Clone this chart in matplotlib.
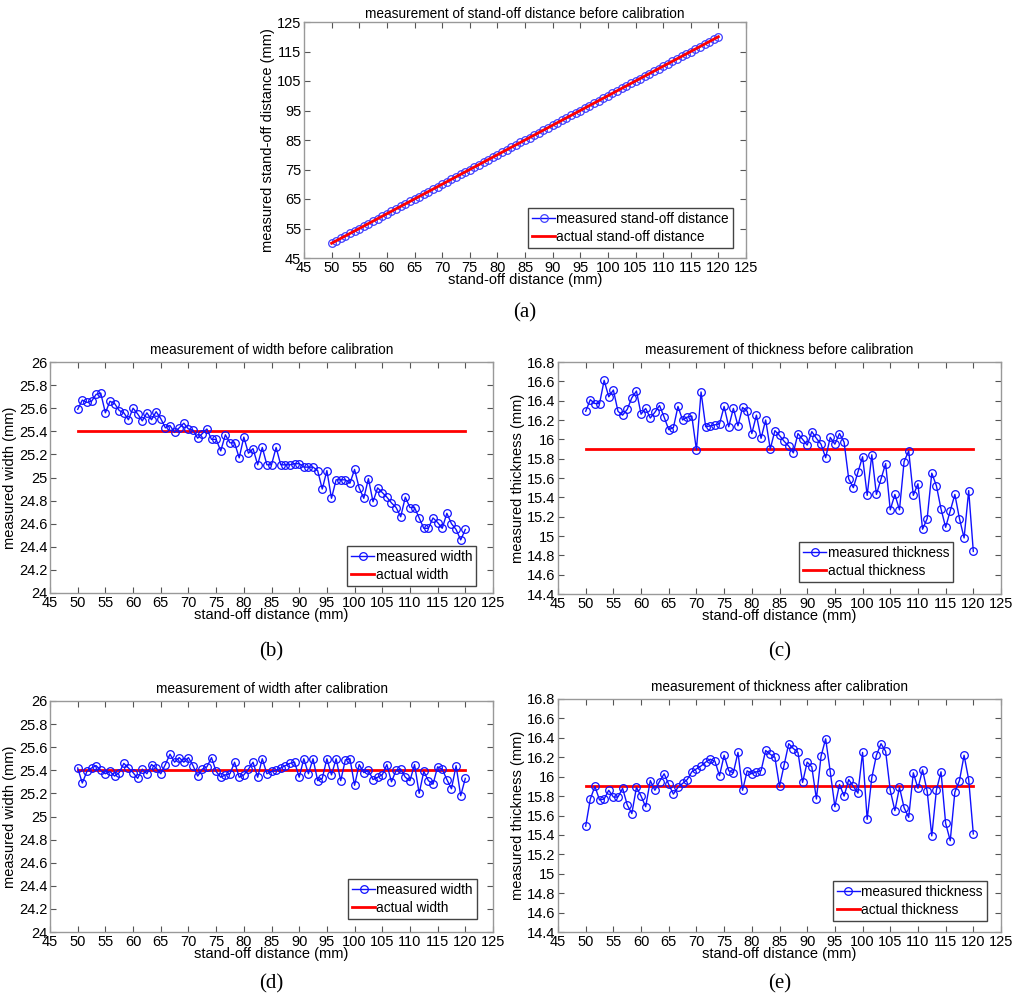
import numpy as np
import matplotlib
matplotlib.use('Agg')
import matplotlib.pyplot as plt

plt.rcParams['font.family'] = ['Liberation Sans', 'DejaVu Sans']

width_before = [25.59, 25.67, 25.65, 25.66, 25.72, 25.73, 25.56, 25.66, 25.64, 25.58,
                25.56, 25.50, 25.60, 25.55, 25.49, 25.56, 25.50, 25.57, 25.51, 25.43,
                25.45, 25.39, 25.43, 25.47, 25.42, 25.41, 25.34, 25.38, 25.42, 25.33,
                25.33, 25.23, 25.37, 25.30, 25.30, 25.17, 25.35, 25.21, 25.25, 25.11,
                25.26, 25.11, 25.11, 25.26, 25.11, 25.11, 25.11, 25.12, 25.12, 25.09,
                25.09, 25.09, 25.06, 24.90, 25.06, 24.82, 24.98, 24.98, 24.98, 24.95,
                25.07, 24.91, 24.82, 24.99, 24.79, 24.91, 24.87, 24.83, 24.78, 24.74,
                24.66, 24.83, 24.74, 24.74, 24.65, 24.56, 24.56, 24.65, 24.61, 24.56,
                24.69, 24.60, 24.55, 24.46, 24.55]

thick_before = [16.29, 16.41, 16.37, 16.37, 16.61, 16.44, 16.51, 16.29, 16.25, 16.31,
                16.43, 16.50, 16.26, 16.32, 16.22, 16.28, 16.35, 16.23, 16.10, 16.12,
                16.34, 16.20, 16.23, 16.24, 15.89, 16.49, 16.13, 16.14, 16.15, 16.16,
                16.34, 16.13, 16.32, 16.14, 16.33, 16.29, 16.06, 16.25, 16.01, 16.20,
                15.90, 16.09, 16.04, 15.98, 15.93, 15.86, 16.06, 16.00, 15.94, 16.08,
                16.01, 15.95, 15.81, 16.02, 15.95, 16.06, 15.97, 15.59, 15.50, 15.66,
                15.82, 15.42, 15.84, 15.43, 15.59, 15.75, 15.27, 15.43, 15.27, 15.77,
                15.88, 15.42, 15.54, 15.07, 15.18, 15.65, 15.52, 15.28, 15.09, 15.26,
                15.43, 15.18, 14.98, 15.47, 14.84]

width_after = [25.42, 25.29, 25.39, 25.42, 25.44, 25.40, 25.37, 25.39, 25.35, 25.38,
               25.46, 25.42, 25.38, 25.33, 25.41, 25.37, 25.45, 25.42, 25.37, 25.45,
               25.54, 25.47, 25.51, 25.47, 25.51, 25.44, 25.35, 25.41, 25.43, 25.51,
               25.39, 25.34, 25.36, 25.37, 25.47, 25.34, 25.36, 25.41, 25.47, 25.34,
               25.50, 25.37, 25.39, 25.40, 25.42, 25.44, 25.46, 25.47, 25.34, 25.50,
               25.37, 25.50, 25.31, 25.33, 25.50, 25.36, 25.50, 25.31, 25.49, 25.50,
               25.27, 25.45, 25.38, 25.40, 25.32, 25.34, 25.36, 25.45, 25.30, 25.40,
               25.41, 25.34, 25.31, 25.45, 25.20, 25.39, 25.31, 25.28, 25.43, 25.41,
               25.32, 25.24, 25.44, 25.18, 25.33]

thick_after = [15.49, 15.77, 15.90, 15.76, 15.77, 15.86, 15.79, 15.79, 15.88, 15.71,
               15.62, 15.89, 15.80, 15.69, 15.96, 15.86, 15.95, 16.03, 15.92, 15.82,
               15.89, 15.93, 15.97, 16.05, 16.08, 16.11, 16.15, 16.18, 16.16, 16.01,
               16.22, 16.06, 16.04, 16.25, 15.86, 16.06, 16.03, 16.05, 16.06, 16.27,
               16.23, 16.20, 15.90, 16.12, 16.34, 16.29, 16.25, 15.94, 16.15, 16.10,
               15.77, 16.21, 16.39, 16.05, 15.69, 15.92, 15.80, 15.97, 15.90, 15.83,
               16.25, 15.56, 15.99, 16.22, 16.34, 16.26, 15.86, 15.65, 15.89, 15.68,
               15.58, 16.04, 15.88, 16.07, 15.85, 15.39, 15.86, 16.05, 15.52, 15.34,
               15.84, 15.96, 16.22, 15.97, 15.41]

standoff = np.linspace(50, 120, len(width_before))
actual_width = 25.4
actual_thick = 15.9

W, H = 1014, 1000
fig = plt.figure(figsize=(W / 100, H / 100), dpi=100)


def make_ax(l, t, r, b):
    return fig.add_axes([l / W, 1 - b / H, (r - l) / W, (b - t) / H])


def style(ax, title, ylabel, ylim, yticks, lbl, lbl_y, leg_xy):
    ax.set_xlim(45, 125)
    ax.set_xticks(np.arange(45, 126, 5))
    ax.set_ylim(*ylim)
    ax.set_yticks(yticks)
    ax.set_yticklabels([('%g' % v) for v in yticks])
    ax.tick_params(direction='in', top=True, right=True, labelsize=10.5,
                   length=4, width=0.8, color='#555555', pad=2)
    for s in ax.spines.values():
        s.set_color('#999999')
        s.set_linewidth(1)
    ax.set_title(title, fontsize=9.8, pad=6)
    ax.set_ylabel(ylabel, fontsize=10.5, labelpad=1)
    ax.set_xlabel('stand-off distance (mm)', fontsize=10.5, labelpad=-1)
    # x centre of the axes in figure coords for the panel letter
    pos = ax.get_position()
    fig.text((pos.x0 + pos.x1) / 2, 1 - lbl_y / H, lbl, ha='center', va='center',
             fontsize=15, family='Liberation Serif')
    leg = ax.legend(loc='lower right', bbox_to_anchor=leg_xy, fontsize=9.8,
                    fancybox=False, framealpha=1, edgecolor='#444444',
                    handlelength=1.7, handletextpad=0.1, borderpad=0.3,
                    labelspacing=0.3, borderaxespad=0)
    leg.get_frame().set_linewidth(1)
    leg.set_zorder(1)


def draw(ax, meas, actual, name):
    ax.plot(standoff, meas, color='#1010ff', lw=1, marker='o', ms=5.5,
            mfc='none', mec='#1010ff', mew=0.9, label='measured ' + name, zorder=3)
    ax.plot([standoff[0], standoff[-1]], [actual, actual], color='#ff0000',
            lw=2, label='actual ' + name, zorder=2)


# (a)
ax_a = make_ax(304, 22, 746, 258)
ax_a.plot(standoff, standoff, color='#1010ff', lw=1, marker='o', ms=5.5,
          mfc='none', mec='#4040ff', mew=0.9, label='measured stand-off distance')
ax_a.plot(standoff, standoff, color='#ff0000', lw=2, label='actual stand-off distance')
style(ax_a, 'measurement of stand-off distance before calibration',
      'measured stand-off distance (mm)', (45, 125), np.arange(45, 126, 10), '(a)',
      313, (0.971, 0.042))
ax_a.set_title(ax_a.get_title(), fontsize=9.8, pad=3)

wy = np.round(np.arange(24, 26.01, 0.2), 1)
ty = np.round(np.arange(14.4, 16.81, 0.2), 1)

# (b)
ax_b = make_ax(50, 362, 493, 593)
draw(ax_b, width_before, actual_width, 'width')
style(ax_b, 'measurement of width before calibration', 'measured width (mm)',
      (24, 26), wy, '(b)', 652, (0.962, 0.030))

# (c)
ax_c = make_ax(558, 362, 1001, 594)
draw(ax_c, thick_before, actual_thick, 'thickness')
style(ax_c, 'measurement of thickness before calibration', 'measured thickness (mm)',
      (14.4, 16.8), ty, '(c)', 652, (0.892, 0.052))

# (d)
ax_d = make_ax(50, 701, 493, 932)
draw(ax_d, width_after, actual_width, 'width')
style(ax_d, 'measurement of width after calibration', 'measured width (mm)',
      (24, 26), wy, '(d)', 984, (0.964, 0.056))

# (e)
ax_e = make_ax(558, 699, 1001, 932)
draw(ax_e, thick_after, actual_thick, 'thickness')
style(ax_e, 'measurement of thickness after calibration', 'measured thickness (mm)',
      (14.4, 16.8), ty, '(e)', 984, (0.968, 0.047))

fig.savefig('out.png', dpi=100)
